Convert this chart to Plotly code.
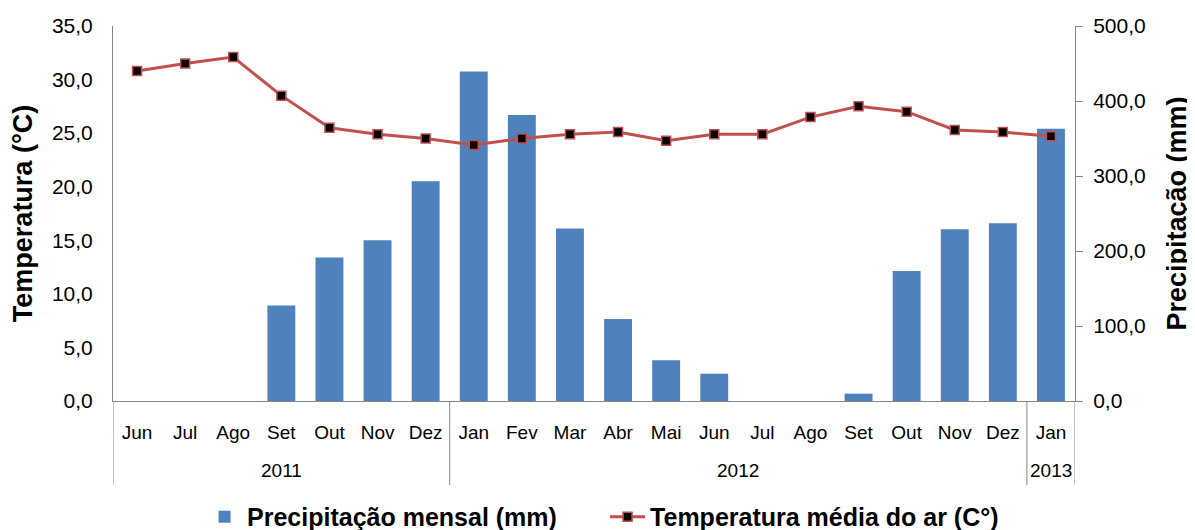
import plotly.graph_objects as go

years = ["2011"] * 7 + ["2012"] * 12 + ["2013"]
months = ["Jun", "Jul", "Ago", "Set", "Out", "Nov", "Dez",
          "Jan", "Fev", "Mar", "Abr", "Mai", "Jun", "Jul", "Ago", "Set", "Out", "Nov", "Dez",
          "Jan"]
precip = [0, 0, 0, 127.2, 191.2, 214.4, 293.1,
          439.5, 381.2, 230.0, 109.4, 54.3, 36.4, 0, 0, 9.8, 173.5, 229.0, 237.0,
          363.0]
temp = [30.8, 31.5, 32.1, 28.5, 25.5, 24.9, 24.5,
        23.9, 24.5, 24.9, 25.1, 24.3, 24.9, 24.9, 26.5, 27.5, 27.0, 25.3, 25.1,
        24.7]

FONT = "Liberation Sans, Arial, sans-serif"
AXIS_GRAY = "#868686"

idx = list(range(len(months)))

fig = go.Figure()
fig.add_trace(go.Bar(
    x=idx, y=precip,
    name="Precipitação mensal (mm)",
    marker=dict(color="#4F81BD", line=dict(width=0)),
    yaxis="y",
))
fig.add_trace(go.Scatter(
    x=idx, y=temp,
    name="Temperatura média do ar (C°)",
    mode="lines+markers",
    line=dict(color="#C0504D", width=3),
    marker=dict(symbol="square", size=9, color="black",
                line=dict(color="#C0504D", width=1.5)),
    yaxis="y2",
))

# year groups: labels centred under their months, dividers at group boundaries
groups = []
for i, y in enumerate(years):
    if not groups or groups[-1][0] != y:
        groups.append([y, i, i])
    else:
        groups[-1][2] = i

annotations = []
shapes = []
for y, a, b in groups:
    annotations.append(dict(
        x=(a + b) / 2, xref="x", y=-0.184, yref="paper",
        text=y, showarrow=False, yanchor="middle",
        font=dict(size=19, family=FONT, color="black"),
    ))
    shapes.append(dict(type="line", xref="x", yref="paper",
                       x0=a - 0.5, x1=a - 0.5, y0=0, y1=-0.224,
                       line=dict(color=AXIS_GRAY, width=1)))
shapes.append(dict(type="line", xref="x", yref="paper",
                   x0=groups[-1][2] + 0.5, x1=groups[-1][2] + 0.5, y0=0, y1=-0.224,
                   line=dict(color=AXIS_GRAY, width=1)))

# the page body has an 8px margin, so the figure is sized/placed to compensate
fig.update_layout(
    width=1187, height=522,
    paper_bgcolor="white", plot_bgcolor="white",
    separators=",.",
    font=dict(family=FONT, color="black", size=19),
    margin=dict(l=105, r=120, t=18, b=129, autoexpand=False),
    bargap=0.42,
    showlegend=True,
    legend=dict(orientation="h", xref="container", yref="container",
                x=0.503, xanchor="center", y=0.025, yanchor="middle",
                font=dict(size=25, family=FONT, weight="bold"),
                entrywidth=353, entrywidthmode="pixels",
                itemwidth=35, traceorder="normal"),
    annotations=annotations,
    shapes=shapes,
    xaxis=dict(
        range=[-0.5, len(months) - 0.5],
        tickmode="array", tickvals=idx, ticktext=months,
        showline=True, linecolor=AXIS_GRAY, linewidth=1,
        ticks="", showgrid=False, zeroline=False,
        tickfont=dict(size=19, color="black"),
        ticklabelstandoff=14, automargin=False,
    ),
    yaxis=dict(
        side="right", range=[0, 500], dtick=100, tickformat=".1f",
        showline=True, linecolor=AXIS_GRAY, linewidth=1,
        ticks="outside", ticklen=7, tickcolor=AXIS_GRAY,
        showgrid=False, zeroline=False,
        tickfont=dict(size=21, color="black"),
        ticklabelstandoff=6, automargin=False,
        title=dict(text="Precipitação (mm)", standoff=22,
                   font=dict(size=27, family=FONT, weight="bold", color="black")),
    ),
    yaxis2=dict(
        overlaying="y", side="left", range=[0, 35], dtick=5, tickformat=".1f",
        showline=True, linecolor=AXIS_GRAY, linewidth=1,
        ticks="", showgrid=False, zeroline=False,
        tickfont=dict(size=21, color="black"),
        ticklabelstandoff=15, automargin=False,
        title=dict(text="Temperatura (°C)", standoff=16,
                   font=dict(size=27, family=FONT, weight="bold", color="black")),
    ),
)

fig.write_html("out.html")
